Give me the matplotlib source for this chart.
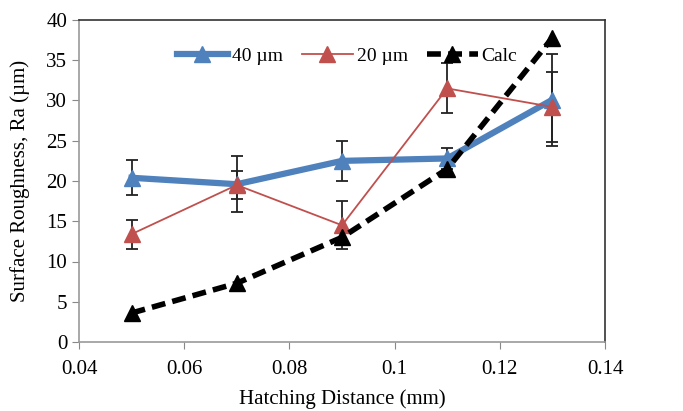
import numpy as np
import matplotlib
matplotlib.use("Agg")
import matplotlib.pyplot as plt

plt.rcParams['font.family'] = ['Liberation Serif', 'DejaVu Serif']

hatch = [0.05, 0.07, 0.09, 0.11, 0.13]
ra_40 = [20.4, 19.6, 22.5, 22.8, 30.1]
err_40 = [2.2, 3.5, 2.5, 1.3, 5.7]
ra_20 = [13.4, 19.5, 14.5, 31.5, 29.2]
err_20 = [1.8, 1.7, 3.0, 3.1, 4.3]
ra_calc = [3.6, 7.3, 13.0, 21.5, 37.8]

xticks = [0.04, 0.06, 0.08, 0.1, 0.12, 0.14]
xtick_labels = ['0.04', '0.06', '0.08', '0.1', '0.12', '0.14']
yticks = [0, 5, 10, 15, 20, 25, 30, 35, 40]

blue = '#4F81BD'
red = '#C0504D'

fig = plt.figure(figsize=(6.83, 4.11), dpi=100)
ax = fig.add_axes([79/683, 1 - 342/411, (605-79)/683, (342-20)/411])

# error bars only, lines drawn separately so the legend keeps plain handles
ax.errorbar(hatch, ra_40, yerr=err_40, fmt='none', ecolor='#222222',
            elinewidth=1.3, capsize=4, capthick=1.3, zorder=2)
ax.errorbar(hatch, ra_20, yerr=err_20, fmt='none', ecolor='#222222',
            elinewidth=1.3, capsize=4, capthick=1.3, zorder=2)

ax.plot(hatch, ra_40, color=blue, lw=4.5, marker='^', ms=11, label='40 µm', zorder=3)
ax.plot(hatch, ra_20, color=red, lw=1.3, marker='^', ms=11, label='20 µm', zorder=4)
ax.plot(hatch, ra_calc, color='black', lw=4, ls=(0, (2.5, 1.3)), marker='^',
        ms=11, label='Calc', zorder=5)

ax.set_xlim(0.04, 0.14)
ax.set_ylim(0, 40)
ax.set_xticks(xticks)
ax.set_xticklabels(xtick_labels)
ax.set_yticks(yticks)
ax.tick_params(labelsize=15, direction='out', length=5, color='#888888')
ax.tick_params(axis='x', pad=8)

for side in ['left', 'bottom']:
    ax.spines[side].set_color('#999999')
    ax.spines[side].set_linewidth(1.2)
for side in ['top', 'right']:
    ax.spines[side].set_color('#333333')
    ax.spines[side].set_linewidth(1.2)

ax.set_ylabel('Surface Roughness, Ra (µm)', fontsize=15, labelpad=12)
ax.set_xlabel('Hatching Distance (mm)', fontsize=15, labelpad=7)

ax.legend(loc='upper center', bbox_to_anchor=(0.51, 0.97), ncol=3, frameon=False,
          fontsize=14, handlelength=2.6, columnspacing=1.0, handletextpad=0.2)

fig.savefig('out.png', dpi=100)
